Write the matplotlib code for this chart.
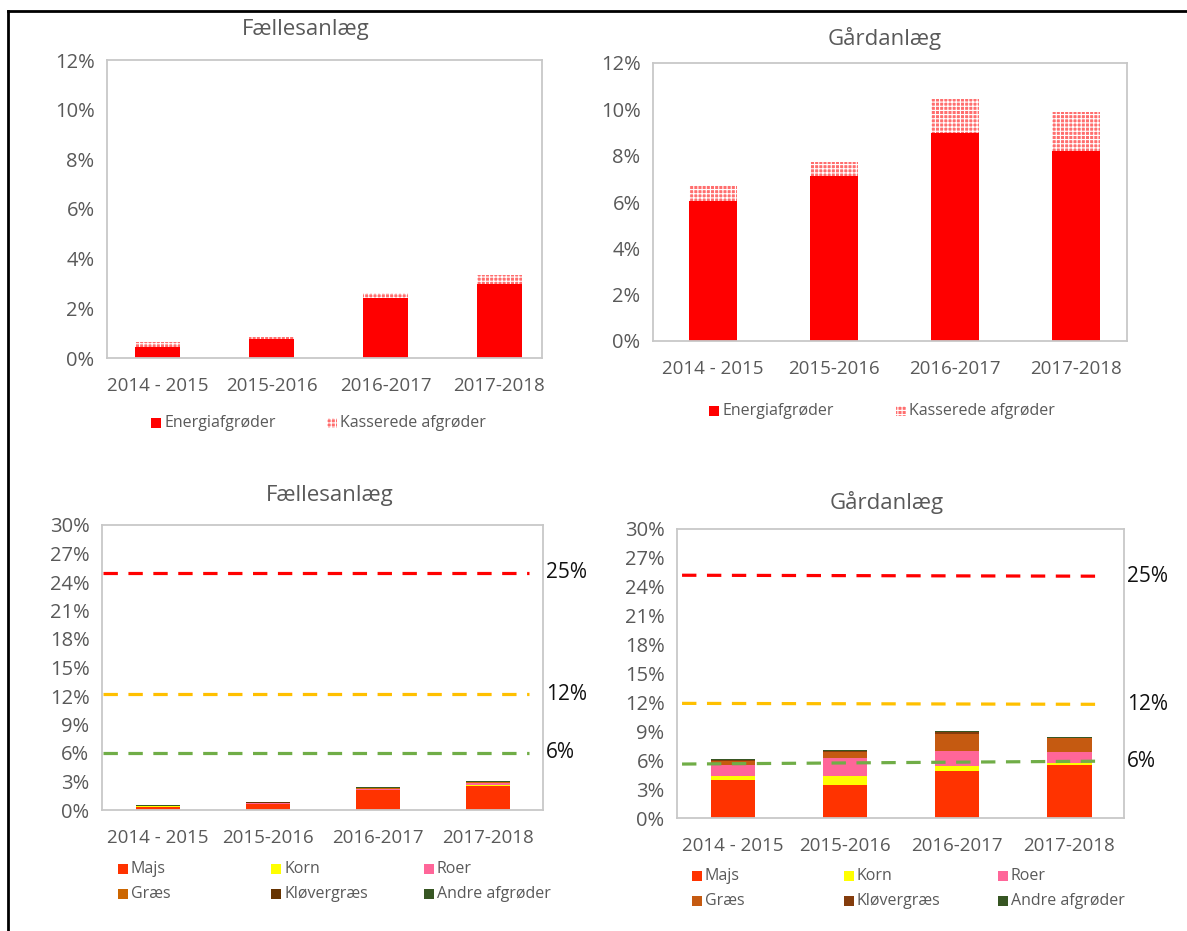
import matplotlib
matplotlib.use("Agg")
import matplotlib.pyplot as plt
from matplotlib.patches import Rectangle
from matplotlib.lines import Line2D
from matplotlib.ticker import PercentFormatter, MultipleLocator
import matplotlib.transforms as mtransforms

plt.rcParams['font.family'] = ['Open Sans', 'DejaVu Sans']
plt.rcParams['hatch.linewidth'] = 0.8

# data (percent)
years = ['2014 - 2015', '2015-2016', '2016-2017', '2017-2018']

faelles_energi = [0.43, 0.76, 2.40, 3.00]
faelles_kasseret = [0.23, 0.09, 0.20, 0.34]
gaard_energi = [6.04, 7.13, 8.96, 8.21]
gaard_kasseret = [0.69, 0.59, 1.47, 1.66]

crop_names = ['Majs', 'Korn', 'Roer', 'Græs', 'Kløvergræs', 'Andre afgrøder']

faelles_majs = [0.36, 0.66, 2.07, 2.55]
faelles_korn = [0.01, 0.01, 0.02, 0.03]
faelles_roer = [0.04, 0.05, 0.15, 0.25]
faelles_graes = [0.04, 0.05, 0.08, 0.10]
faelles_klover = [0.02, 0.03, 0.03, 0.04]
faelles_andre = [0.05, 0.07, 0.07, 0.07]

gaard_majs = [3.92, 3.44, 4.86, 5.48]
gaard_korn = [0.49, 0.97, 0.52, 0.21]
gaard_roer = [1.07, 1.83, 1.56, 1.11]
gaard_graes = [0.42, 0.56, 1.80, 1.46]
gaard_klover = [0.10, 0.11, 0.14, 0.07]
gaard_andre = [0.10, 0.14, 0.11, 0.10]

# limit lines: value at start and end of the line
limit_labels = ['25%', '12%', '6%']
faelles_limits = [[25.0, 25.0], [12.2, 12.2], [6.0, 6.0]]
gaard_limits = [[25.2, 25.1], [11.9, 11.8], [5.6, 5.9]]

# colours
energi_color = '#ff0000'
kasseret_face = '#ff6e6e'
faelles_crop_colors = ['#ff3300', '#ffff00', '#ff6699', '#cc6600', '#663300', '#375623']
gaard_crop_colors = ['#ff3300', '#ffff00', '#ff6699', '#c55a11', '#843c0c', '#375623']
limit_colors = ['#ff0000', '#ffc000', '#70ad47']
text_gray = '#595959'

W, H = 1187, 931
fig = plt.figure(figsize=(W / 100, H / 100), dpi=100)


def rect(l, t, r, b):
    return [l / W, 1 - b / H, (r - l) / W, (b - t) / H]


def px(x, y):
    return x / W, 1 - y / H


def style_axes(ax, ymax, ystep, xlim, xpad):
    ax.set_ylim(0, ymax)
    ax.set_xlim(*xlim)
    ax.yaxis.set_major_locator(MultipleLocator(ystep))
    ax.yaxis.set_major_formatter(PercentFormatter(decimals=0))
    ax.set_xticks(range(len(years)))
    ax.set_xticklabels(years)
    ax.tick_params(axis='both', length=0, colors=text_gray)
    ax.tick_params(axis='x', labelsize=13.5, pad=xpad)
    ax.tick_params(axis='y', labelsize=14.5, pad=9)
    for s in ax.spines.values():
        s.set_color('#c8c8c8')
        s.set_linewidth(1.3)


def legend_item(x, y, color, label, hatch=None):
    x0, y0 = px(x, y + 5)
    fig.patches.append(Rectangle((x0, y0), 10 / W, 10 / H, transform=fig.transFigure,
                                 facecolor=color, edgecolor='white' if hatch else 'none',
                                 hatch=hatch, linewidth=0))
    tx, ty = px(x + 13, y)
    fig.text(tx, ty, label, fontsize=11.5, color=text_gray, va='center', ha='left')


# top left: Fællesanlæg
ax1 = fig.add_axes(rect(107, 60, 542, 358))
x = range(len(years))
ax1.bar(x, faelles_energi, width=0.395, color=energi_color)
ax1.bar(x, faelles_kasseret, width=0.395, bottom=faelles_energi, facecolor=kasseret_face,
        edgecolor='white', hatch='++++', linewidth=0)
style_axes(ax1, 12, 2, (-0.443, 3.373), 14)
fig.text(*px(306, 30), 'Fællesanlæg', fontsize=16, color=text_gray, ha='center', va='center')
legend_item(151, 423, energi_color, 'Energiafgrøder')
legend_item(327, 423, kasseret_face, 'Kasserede afgrøder', hatch='++++')

# top right: Gårdanlæg
ax2 = fig.add_axes(rect(653, 63, 1127, 341))
ax2.bar(x, gaard_energi, width=0.396, color=energi_color)
ax2.bar(x, gaard_kasseret, width=0.396, bottom=gaard_energi, facecolor=kasseret_face,
        edgecolor='white', hatch='++++', linewidth=0)
style_axes(ax2, 12, 2, (-0.491, 3.42), 14)
fig.text(*px(885, 38), 'Gårdanlæg', fontsize=16, color=text_gray, ha='center', va='center')
legend_item(709, 411, energi_color, 'Energiafgrøder')
legend_item(896, 411, kasseret_face, 'Kasserede afgrøder', hatch='++++')


def stacked(ax, series, colors, limits, line_span, xlim):
    bottom = [0.0] * len(years)
    for vals, c in zip(series, colors):
        ax.bar(x, vals, width=0.4, bottom=bottom, color=c)
        bottom = [b + v for b, v in zip(bottom, vals)]
    trans = mtransforms.blended_transform_factory(ax.transAxes, ax.transData)
    for vals, c, lab in zip(limits, limit_colors, limit_labels):
        ax.plot(line_span, vals, color=c, linewidth=2.3, dashes=(4.5, 3.3), clip_on=False)
        ax.text(1.006, vals[-1], lab, transform=trans, fontsize=15, color='#111111',
                ha='left', va='center', clip_on=False)
    style_axes(ax, 30, 3, xlim, 14)


# bottom left: Fællesanlæg crops
ax3 = fig.add_axes(rect(102, 525, 543, 810))
stacked(ax3, [faelles_majs, faelles_korn, faelles_roer, faelles_graes, faelles_klover, faelles_andre],
        faelles_crop_colors, faelles_limits, [-0.5, 3.37], (-0.51, 3.50))
fig.text(*px(330, 495), 'Fællesanlæg', fontsize=16, color=text_gray, ha='center', va='center')
for i, (name, c) in enumerate(zip(crop_names, faelles_crop_colors)):
    legend_item([118, 271, 424][i % 3], [869, 894][i // 3], c, name)

# bottom right: Gårdanlæg crops
ax4 = fig.add_axes(rect(677, 529, 1124, 818))
stacked(ax4, [gaard_majs, gaard_korn, gaard_roer, gaard_graes, gaard_klover, gaard_andre],
        gaard_crop_colors, gaard_limits, [-0.455, 3.30], (-0.5, 3.49))
fig.text(*px(887, 503), 'Gårdanlæg', fontsize=16, color=text_gray, ha='center', va='center')
for i, (name, c) in enumerate(zip(crop_names, gaard_crop_colors)):
    legend_item([692, 844, 998][i % 3], [876, 901][i // 3], c, name)

# outer frame (top and left)
fig.add_artist(Line2D([8 / W, 1], [1 - 11 / H, 1 - 11 / H], color='black', linewidth=2,
                      transform=fig.transFigure))
fig.add_artist(Line2D([8 / W, 8 / W], [0, 1 - 11 / H], color='black', linewidth=2,
                      transform=fig.transFigure))

fig.savefig('out.png', dpi=100)
